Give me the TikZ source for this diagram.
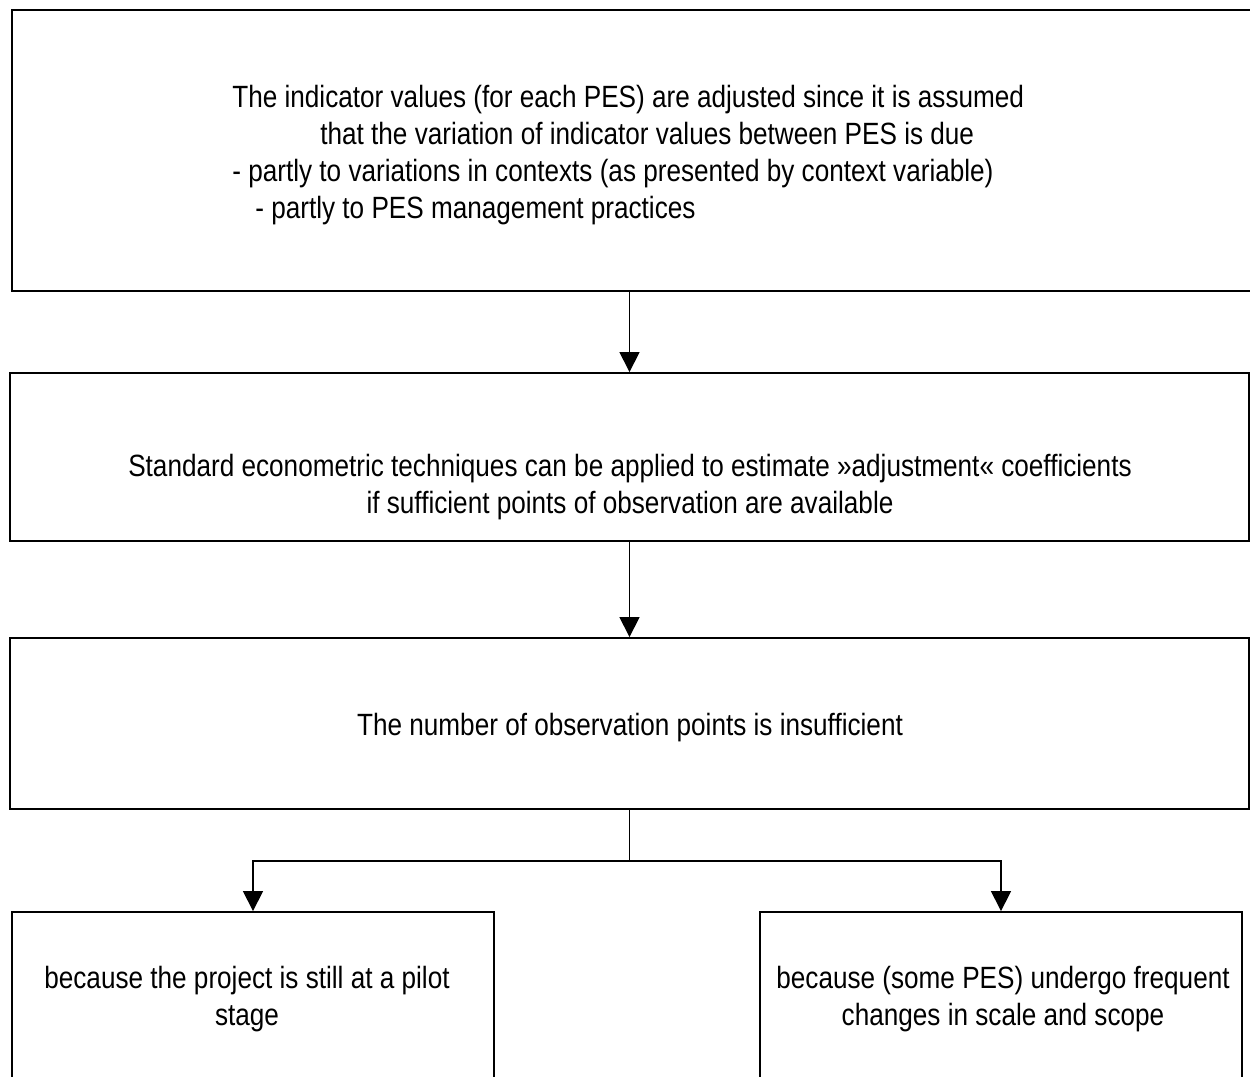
\documentclass[tikz,border=0pt]{standalone}
\usepackage{fontspec}
\setmainfont[FakeStretch=0.85]{Liberation Sans}
\usetikzlibrary{arrows.meta}
\tikzset{
  box/.style={draw, line width=1.1pt, inner sep=0pt},
  txt/.style={inner sep=0pt, font=\fontsize{17.5pt}{21pt}\selectfont},
  arr/.style={-{Triangle[length=0.4cm,width=0.4cm]}, line width=0.9pt}
}

\begin{document}
\begin{tikzpicture}[x=0.02cm, y=-0.02cm]
\useasboundingbox (0,0) rectangle (1250,1077);
\clip (0,0) rectangle (1250,1077);

% boxes
\node[box, minimum width=24.82cm, minimum height=5.62cm] (indic) at (632.5,150.5) {};
\node[box, minimum width=24.78cm, minimum height=3.36cm] (econ) at (629.5,457) {};
\node[box, minimum width=24.78cm, minimum height=3.42cm] (insuff) at (629.5,723.5) {};
\node[box, minimum width=9.64cm, minimum height=3.56cm] (pilot) at (253,1001) {};
\node[box, minimum width=9.64cm, minimum height=3.56cm] (scope) at (1001,1001) {};

% texts
\node[txt, align=left, anchor=west] (indictxt) at (232,155)
  {The indicator values (for each PES) are adjusted since it is assumed\\
   \hspace*{1.76cm}that the variation of indicator values between PES is due\\
   - partly to variations in contexts (as presented by context variable)\\
   \hspace*{0.46cm}- partly to PES management practices};
\node[txt, align=center] (econtxt) at (630,487)
  {Standard econometric techniques can be applied to estimate »adjustment« coefficients\\
   if sufficient points of observation are available};
\node[txt] (insufftxt) at (630,728) {The number of observation points is insufficient};
\node[txt, align=center] (pilottxt) at (247,999) {because the project is still at a pilot\\stage};
\node[txt, align=center] (scopetxt) at (1003,999) {because (some PES) undergo frequent\\changes in scale and scope};

% connectors
\coordinate (split) at ([yshift=-51*0.02cm]insuff.south);
\draw[arr] (econ.north |- indic.south) -- (econ.north);
\draw[arr] (insuff.north |- econ.south) -- (insuff.north);
\draw[line width=0.9pt] (insuff.south) -- (split);
\draw[arr] (split) -| (pilot.north);
\draw[arr] (split) -| (scope.north);
\end{tikzpicture}
\end{document}
